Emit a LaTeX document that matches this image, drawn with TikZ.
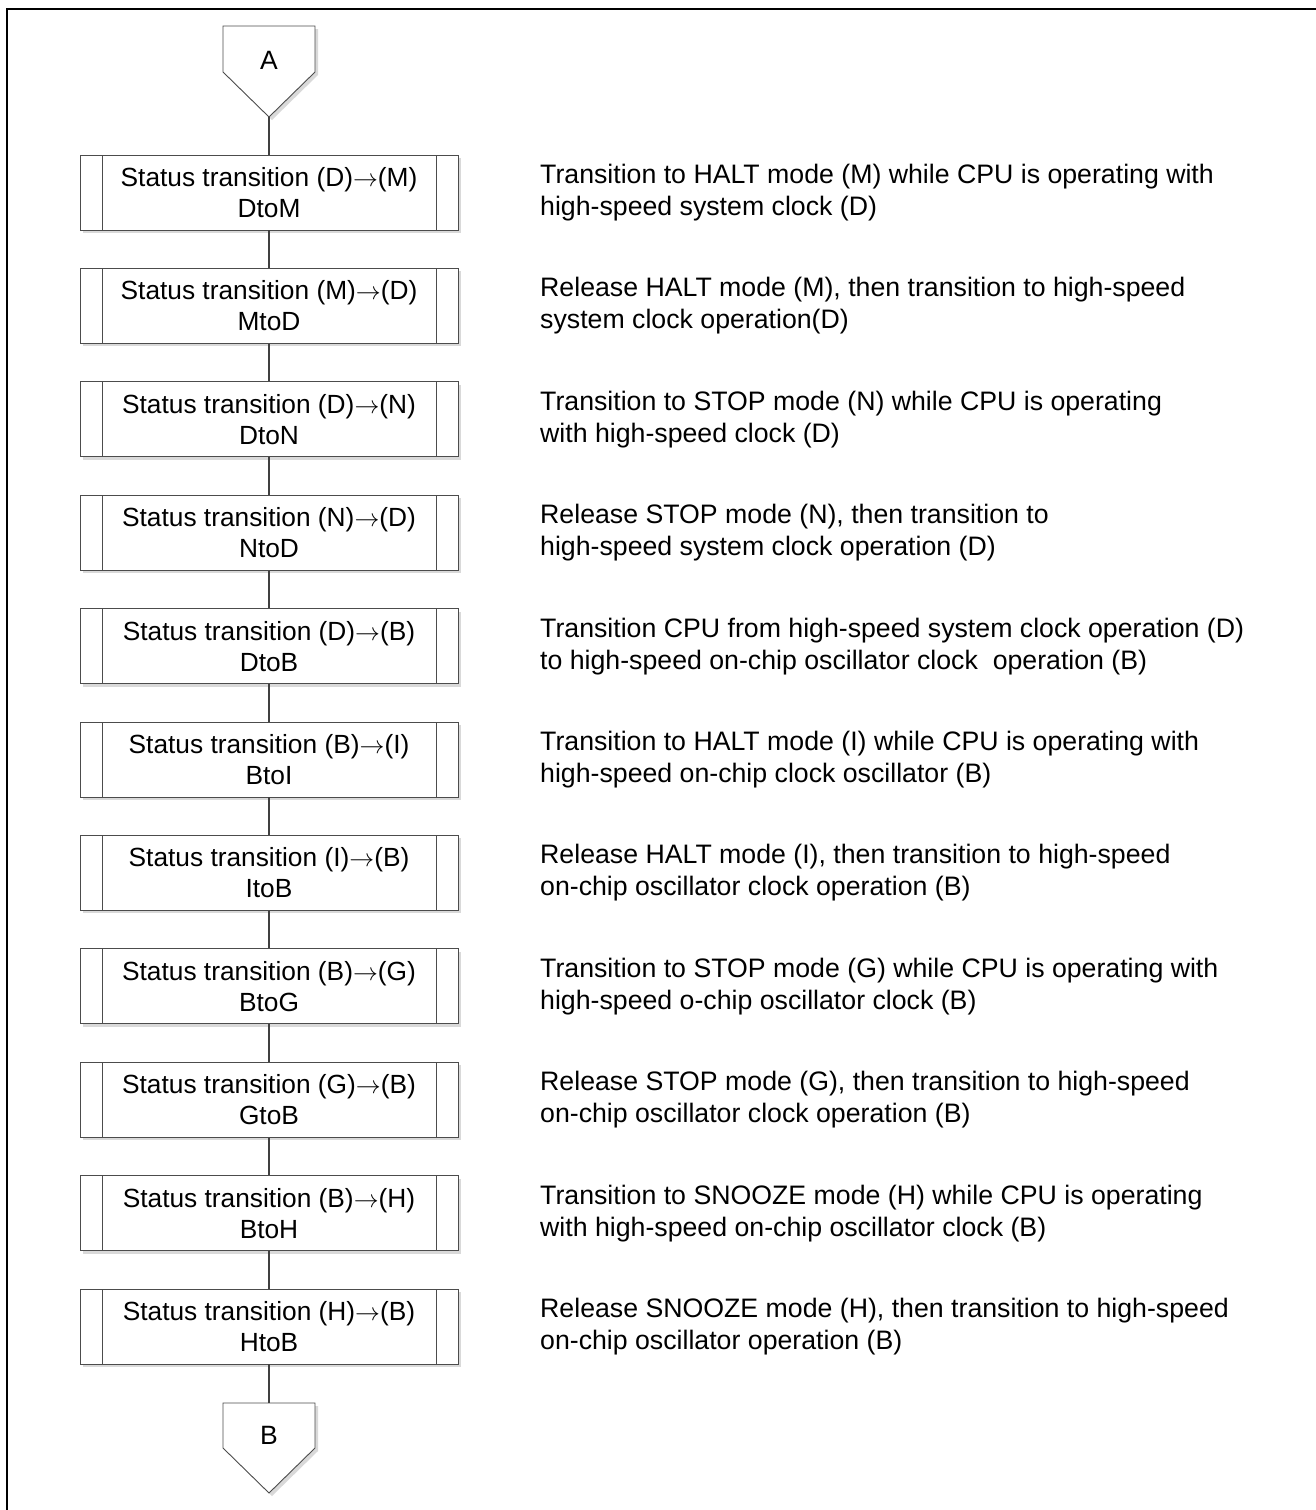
\documentclass[tikz,border=0pt]{standalone}
\usepackage{fontspec}
\setmainfont{Liberation Sans}
\usetikzlibrary{shadows}
\newcommand{\arr}{\ensuremath{\rightarrow}}
\begin{document}
\begin{tikzpicture}[x=1pt,y=-1pt,
  procbox/.style={draw=black!70, line width=0.9pt, fill=white, rectangle,
    minimum width=378pt, minimum height=75pt, inner sep=0pt, align=center,
    font=\fontsize{26.3}{31}\selectfont,
    drop shadow={shadow xshift=3pt, shadow yshift=-3pt, fill=black!15, opacity=1},
    path picture={
      \draw[black!70, line width=0.9pt]
        ([xshift=22pt]path picture bounding box.north west) --
        ([xshift=22pt]path picture bounding box.south west)
        ([xshift=-22pt]path picture bounding box.north east) --
        ([xshift=-22pt]path picture bounding box.south east);}},
  note/.style={anchor=west, align=left, inner sep=0pt,
    font=\fontsize{26.7}{32}\selectfont},
  link/.style={draw=black!75, line width=2pt},
  pent/.style={draw=black!70, line width=0.9pt, fill=white},
  pentshadow/.style={fill=black!15},
  conn/.style={font=\fontsize{26.5}{30}\selectfont, inner sep=0pt}]
\useasboundingbox (0,0) rectangle (1316,1510);
\draw[line width=2.2pt] (7,1600) -- (7,9) -- (1400,9);

% off-page connector A
\fill[pentshadow] (226,29) -- (318,29) -- (318,75) -- (272,120) -- (226,75) -- cycle;
\draw[pent] (223,26) -- (315,26) -- (315,72) -- (269,117) -- (223,72) -- cycle;
\node[conn] (A) at (269,60) {A};
\coordinate (Atip) at (269,117);

% process steps
\foreach \i/\ttl/\nm in {
  0/{(D)\arr(M)}/DtoM, 1/{(M)\arr(D)}/MtoD, 2/{(D)\arr(N)}/DtoN, 3/{(N)\arr(D)}/NtoD,
  4/{(D)\arr(B)}/DtoB, 5/{(B)\arr(I)}/BtoI, 6/{(I)\arr(B)}/ItoB, 7/{(B)\arr(G)}/BtoG,
  8/{(G)\arr(B)}/GtoB, 9/{(B)\arr(H)}/BtoH, 10/{(H)\arr(B)}/HtoB} {
  \node[procbox] (s\i) at (269,{192.5+113.4*\i}) {Status transition \ttl\\\nm};
}

\node[note] (n0) at (540,192.5) {Transition to HALT mode (M) while CPU is operating with\\high-speed system clock (D)};
\node[note] (n1) at (540,305.9) {Release HALT mode (M), then transition to high-speed\\system clock operation(D)};
\node[note] (n2) at (540,419.3) {Transition to STOP mode (N) while CPU is operating\\with high-speed clock (D)};
\node[note] (n3) at (540,532.7) {Release STOP mode (N), then transition to\\high-speed system clock operation (D)};
\node[note] (n4) at (540,646.1) {Transition CPU from high-speed system clock operation (D)\\to high-speed on-chip oscillator clock\ \ operation (B)};
\node[note] (n5) at (540,759.5) {Transition to HALT mode (I) while CPU is operating with\\high-speed on-chip clock oscillator (B)};
\node[note] (n6) at (540,872.9) {Release HALT mode (I), then transition to high-speed\\on-chip oscillator clock operation (B)};
\node[note] (n7) at (540,986.3) {Transition to STOP mode (G) while CPU is operating with\\high-speed o-chip oscillator clock (B)};
\node[note] (n8) at (540,1099.7) {Release STOP mode (G), then transition to high-speed\\on-chip oscillator clock operation (B)};
\node[note] (n9) at (540,1213.1) {Transition to SNOOZE mode (H) while CPU is operating\\with high-speed on-chip oscillator clock (B)};
\node[note] (n10) at (540,1326.5) {Release SNOOZE mode (H), then transition to high-speed\\on-chip oscillator operation (B)};

% off-page connector B
\fill[pentshadow] (226,1406) -- (318,1406) -- (318,1451) -- (272,1496) -- (226,1451) -- cycle;
\draw[pent] (223,1403) -- (315,1403) -- (315,1448) -- (269,1493) -- (223,1448) -- cycle;
\node[conn] (B) at (269,1435) {B};
\coordinate (Btop) at (269,1403);

% connectors
\draw[link] (Atip) -- (s0.north);
\foreach \i [evaluate=\i as \j using int(\i+1)] in {0,...,9} {
  \draw[link] (s\i.south) -- (s\j.north);
}
\draw[link] (s10.south) -- (Btop);
\end{tikzpicture}
\end{document}
